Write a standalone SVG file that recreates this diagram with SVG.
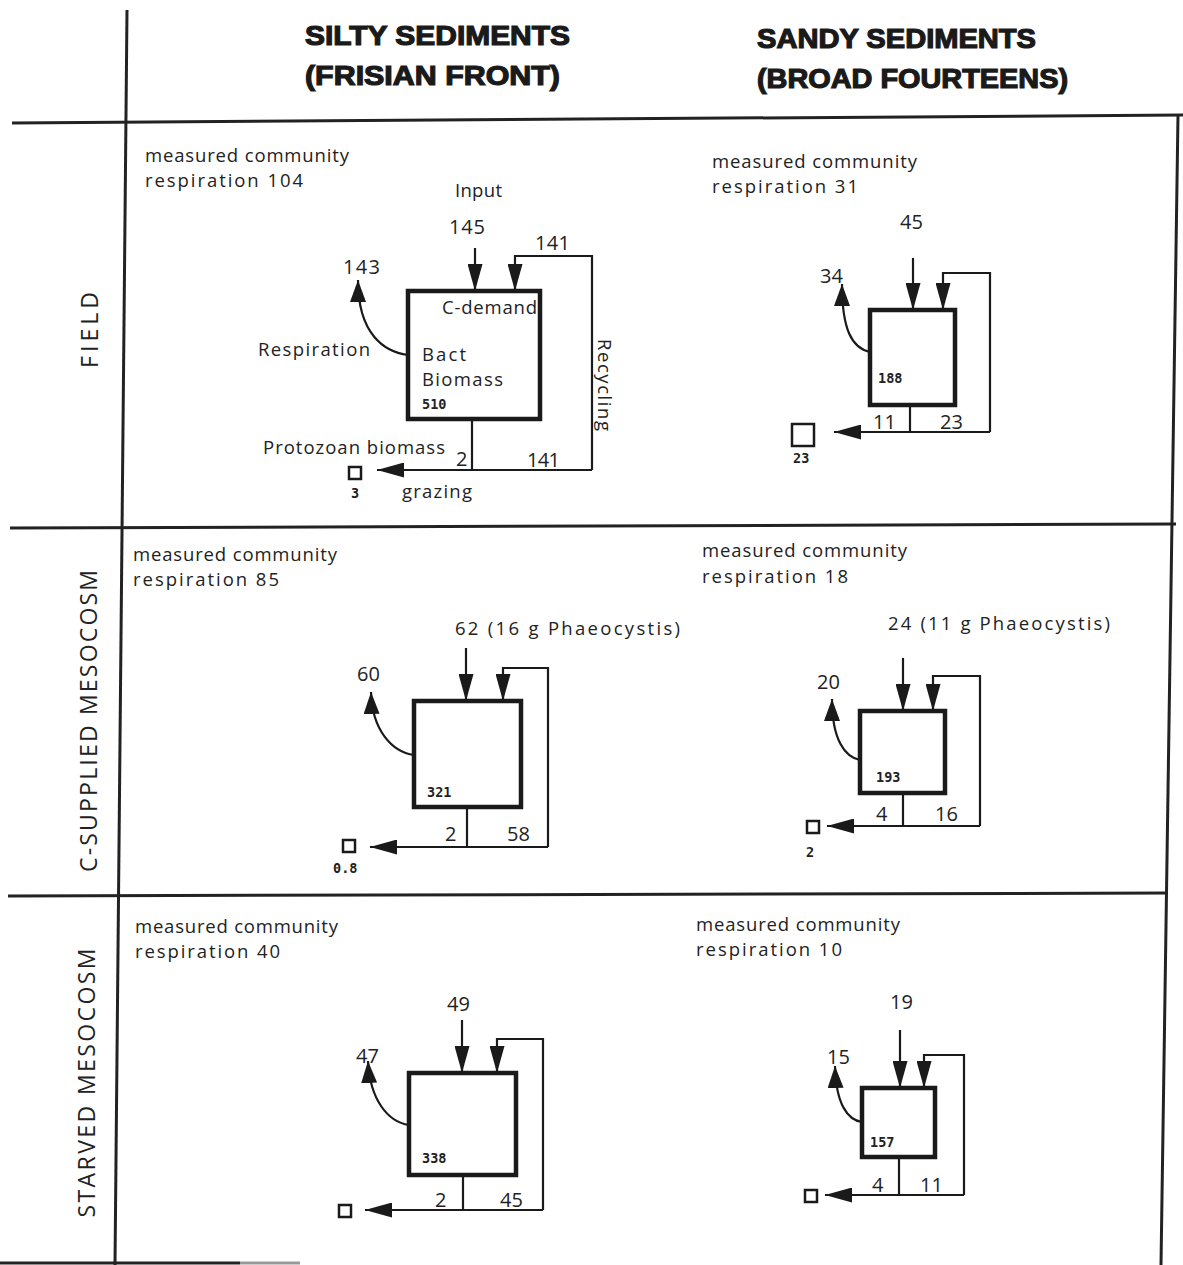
<svg xmlns="http://www.w3.org/2000/svg" width="1183" height="1265" viewBox="0 0 1183 1265">
<style>
.grid{stroke:#222;stroke-width:3;fill:none}
.ln{stroke:#1a1a1a;stroke-width:2.2;fill:none}
.box{stroke:#1a1a1a;stroke-width:4.5;fill:#fff}
.sq{stroke:#1a1a1a;stroke-width:2.5;fill:#fff}
.t{font-family:"Open Sans","Liberation Sans",sans-serif;font-size:18.5px;fill:#222}
.n{font-family:"Open Sans","Liberation Sans",sans-serif;font-size:20px;fill:#222}
.b{font-family:"DejaVu Sans Mono","Liberation Mono",monospace;font-weight:bold;font-size:13.5px;fill:#222}
.h{font-family:"Liberation Sans","DejaVu Sans",sans-serif;font-weight:bold;font-size:27px;fill:#1a1a1a;stroke:#1a1a1a;stroke-width:1.2}
.r{font-family:"Open Sans","Liberation Sans",sans-serif;font-size:23px;fill:#222}
</style>
<defs>
<marker id="ah" markerUnits="userSpaceOnUse" markerWidth="27" markerHeight="15" refX="27" refY="7.5" orient="auto" viewBox="0 0 27 15">
<path d="M0,0 L27,7.5 L0,15 z" fill="#1a1a1a"/>
</marker>
<marker id="ar" markerUnits="userSpaceOnUse" markerWidth="22" markerHeight="16" refX="22" refY="8" orient="auto" viewBox="0 0 22 16">
<path d="M0,0 L22,8 L0,16 z" fill="#1a1a1a"/>
</marker>
</defs>
<rect width="1183" height="1265" fill="#fff"/>
<g id="grid">
<path class="grid" d="M127,10 L115,1265"/>
<path class="grid" d="M1178,115 L1161,1265"/>
<path class="grid" d="M12,123 L1183,115"/>
<path class="grid" d="M10,528 L1176,524"/>
<path class="grid" d="M8,896 L1168,893"/>
<path class="grid" d="M0,1263 L240,1263"/>
<path d="M240,1263 L300,1263" stroke="#999" stroke-width="3"/>
</g>
<g id="headers">
<text class="h" x="305" y="45" textLength="265" lengthAdjust="spacingAndGlyphs">SILTY SEDIMENTS</text>
<text class="h" x="305" y="85" textLength="255" lengthAdjust="spacingAndGlyphs">(FRISIAN FRONT)</text>
<text class="h" x="757" y="48" textLength="279" lengthAdjust="spacingAndGlyphs">SANDY SEDIMENTS</text>
<text class="h" x="757" y="88" textLength="311" lengthAdjust="spacingAndGlyphs">(BROAD FOURTEENS)</text>
<text class="r" transform="translate(98,330) rotate(-90)" text-anchor="middle" textLength="76">FIELD</text>
<text class="r" transform="translate(97,721) rotate(-90)" text-anchor="middle" textLength="302">C-SUPPLIED MESOCOSM</text>
<text class="r" transform="translate(95,1083) rotate(-90)" text-anchor="middle" textLength="269">STARVED MESOCOSM</text>
</g>
<g id="connectors">
<line class="ln" x1="475" y1="248" x2="475" y2="291" marker-end="url(#ah)"/>
<path class="ln" d="M592,470 L592,256 L515,256 L515,291" marker-end="url(#ah)"/>
<line class="ln" x1="472" y1="419" x2="472" y2="470"/>
<path class="ln" d="M592,470 L377,470" marker-end="url(#ah)"/>
<path class="ln" d="M408,355 C385,352 358,335 358,280" marker-end="url(#ar)"/>
<line class="ln" x1="913" y1="258" x2="913" y2="310" marker-end="url(#ah)"/>
<path class="ln" d="M990,432 L990,273 L943,273 L943,310" marker-end="url(#ah)"/>
<line class="ln" x1="910" y1="405" x2="910" y2="432"/>
<path class="ln" d="M990,432 L834,432" marker-end="url(#ah)"/>
<path class="ln" d="M870,352 C852,348 842,330 842,284" marker-end="url(#ar)"/>
<line class="ln" x1="466" y1="648" x2="466" y2="701" marker-end="url(#ah)"/>
<path class="ln" d="M548,847 L548,668 L503,668 L503,701" marker-end="url(#ah)"/>
<line class="ln" x1="467" y1="807" x2="467" y2="847"/>
<path class="ln" d="M548,847 L370,847" marker-end="url(#ah)"/>
<path class="ln" d="M414,755 C392,752 372,730 371,692" marker-end="url(#ar)"/>
<line class="ln" x1="903" y1="658" x2="903" y2="711" marker-end="url(#ah)"/>
<path class="ln" d="M980,826 L980,676 L933,676 L933,711" marker-end="url(#ah)"/>
<line class="ln" x1="903" y1="793" x2="903" y2="826"/>
<path class="ln" d="M980,826 L827,826" marker-end="url(#ah)"/>
<path class="ln" d="M860,760 C845,757 832,740 832,699" marker-end="url(#ar)"/>
<line class="ln" x1="462" y1="1020" x2="462" y2="1073" marker-end="url(#ah)"/>
<path class="ln" d="M543,1210 L543,1039 L497,1039 L497,1073" marker-end="url(#ah)"/>
<line class="ln" x1="463" y1="1175" x2="463" y2="1210"/>
<path class="ln" d="M543,1210 L365,1210" marker-end="url(#ah)"/>
<path class="ln" d="M409,1125 C388,1122 370,1100 368,1061" marker-end="url(#ar)"/>
<line class="ln" x1="900" y1="1030" x2="900" y2="1088" marker-end="url(#ah)"/>
<path class="ln" d="M964,1195 L964,1055 L924,1055 L924,1088" marker-end="url(#ah)"/>
<line class="ln" x1="899" y1="1157" x2="899" y2="1195"/>
<path class="ln" d="M964,1195 L825,1195" marker-end="url(#ah)"/>
<path class="ln" d="M862,1122 C848,1120 836,1105 835,1066" marker-end="url(#ar)"/>
</g>
<g id="field-silty">
<text class="t" x="145" y="162" textLength="204">measured community</text>
<text class="t" x="145" y="187" textLength="158">respiration  104</text>
<text class="t" x="455" y="197" textLength="47">Input</text>
<text class="n" x="449" y="234" textLength="36">145</text>
<text class="n" x="535" y="250" textLength="35">141</text>
<text class="n" x="343" y="274" textLength="37">143</text>
<rect class="box" x="408" y="291" width="132" height="128"/>
<text class="t" x="442" y="314" textLength="95">C-demand</text>
<text class="t" x="422" y="361" textLength="44">Bact</text>
<text class="t" x="422" y="386" textLength="81">Biomass</text>
<text class="b" x="422" y="409">510</text>
<text class="t" transform="translate(598,385) rotate(90)" text-anchor="middle" textLength="92">Recycling</text>
<text class="t" x="258" y="356" textLength="112">Respiration</text>
<text class="t" x="263" y="454" textLength="182">Protozoan biomass</text>
<text class="n" x="456" y="466">2</text>
<text class="n" x="527" y="467" textLength="33">141</text>
<rect class="sq" x="349" y="467" width="12" height="12"/>
<text class="b" x="351" y="498">3</text>
<text class="t" x="402" y="498" textLength="70">grazing</text>
</g>
<g id="field-sandy">
<text class="t" x="712" y="168" textLength="205">measured community</text>
<text class="t" x="712" y="193" textLength="146">respiration  31</text>
<text class="n" x="900" y="229">45</text>
<text class="n" x="820" y="283">34</text>
<rect class="box" x="870" y="310" width="85" height="95"/>
<text class="b" x="878" y="383">188</text>
<text class="n" x="873" y="429">11</text>
<text class="n" x="940" y="429">23</text>
<rect class="sq" x="792" y="424" width="22" height="22"/>
<text class="b" x="793" y="463">23</text>
</g>
<g id="csupplied-silty">
<text class="t" x="133" y="561" textLength="204">measured community</text>
<text class="t" x="133" y="586" textLength="146">respiration  85</text>
<text class="t" x="455" y="635" textLength="225">62  (16 g Phaeocystis)</text>
<text class="n" x="357" y="681">60</text>
<rect class="box" x="414" y="701" width="107" height="106"/>
<text class="b" x="427" y="797">321</text>
<text class="n" x="445" y="841">2</text>
<text class="n" x="507" y="841">58</text>
<rect class="sq" x="343" y="840" width="12" height="12"/>
<text class="b" x="333" y="873">0.8</text>
</g>
<g id="csupplied-sandy">
<text class="t" x="702" y="557" textLength="205">measured community</text>
<text class="t" x="702" y="583" textLength="146">respiration  18</text>
<text class="t" x="888" y="630" textLength="222">24 (11 g Phaeocystis)</text>
<text class="n" x="817" y="689">20</text>
<rect class="box" x="860" y="711" width="85" height="82"/>
<text class="b" x="876" y="782">193</text>
<text class="n" x="876" y="821">4</text>
<text class="n" x="935" y="821">16</text>
<rect class="sq" x="807" y="821" width="12" height="12"/>
<text class="b" x="806" y="857">2</text>
</g>
<g id="starved-silty">
<text class="t" x="135" y="933" textLength="203">measured community</text>
<text class="t" x="135" y="958" textLength="145">respiration  40</text>
<text class="n" x="447" y="1011">49</text>
<text class="n" x="356" y="1063">47</text>
<rect class="box" x="409" y="1073" width="107" height="102"/>
<text class="b" x="422" y="1163">338</text>
<text class="n" x="435" y="1207">2</text>
<text class="n" x="500" y="1207">45</text>
<rect class="sq" x="339" y="1205" width="12" height="12"/>
</g>
<g id="starved-sandy">
<text class="t" x="696" y="931" textLength="204">measured community</text>
<text class="t" x="696" y="956" textLength="146">respiration  10</text>
<text class="n" x="890" y="1009">19</text>
<text class="n" x="827" y="1064">15</text>
<rect class="box" x="862" y="1088" width="73" height="69"/>
<text class="b" x="870" y="1147">157</text>
<text class="n" x="872" y="1192">4</text>
<text class="n" x="920" y="1192">11</text>
<rect class="sq" x="805" y="1190" width="12" height="12"/>
</g>
</svg>
